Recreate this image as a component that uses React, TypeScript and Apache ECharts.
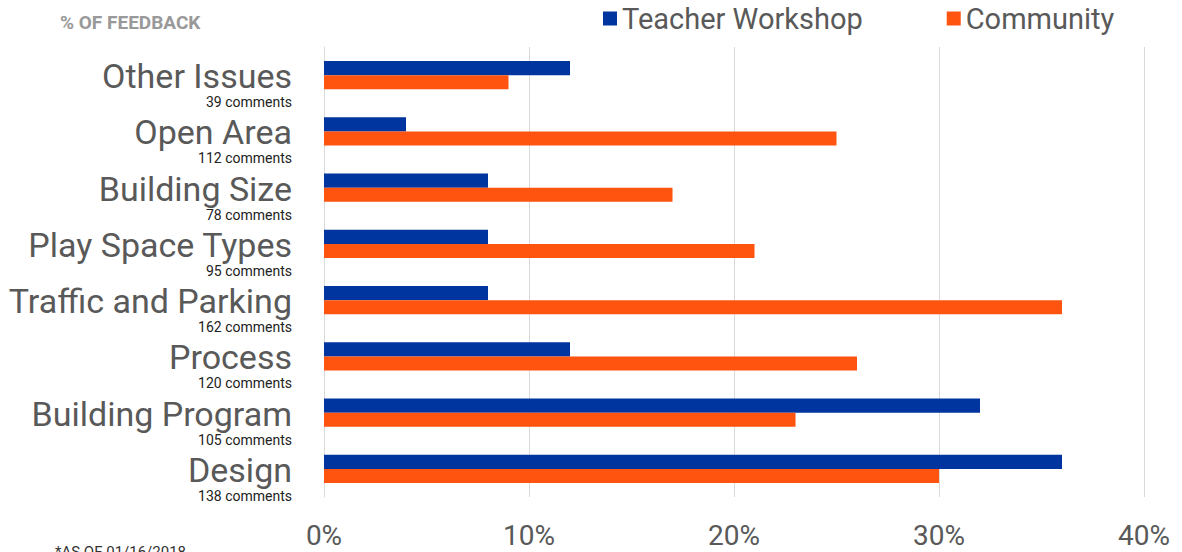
import React, { useEffect, useRef } from "react";
import * as echarts from "echarts";

const categories = [
  "Other Issues",
  "Open Area",
  "Building Size",
  "Play Space Types",
  "Traffic and Parking",
  "Process",
  "Building Program",
  "Design",
];
const commentCounts = [39, 112, 78, 95, 162, 120, 105, 138];
const teacherWorkshop = [12, 4, 8, 8, 8, 12, 32, 36];
const community = [9, 25, 17, 21, 36, 26, 23, 30];
const xTicks = [0, 10, 20, 30, 40];

const FONT = "'Roboto', 'Liberation Sans', sans-serif";

export default function App() {
  const ref = useRef<HTMLDivElement>(null);
  useEffect(() => {
    if (!ref.current) return;
    const chart = echarts.init(ref.current, undefined, { renderer: "svg" });
    chart.setOption({
      animation: false,
      backgroundColor: "#ffffff",
      title: {
        text: "% OF FEEDBACK",
        left: 55,
        top: 8,
        textStyle: {
          fontFamily: FONT,
          fontWeight: "bold",
          fontSize: 19,
          color: "#999999",
        },
      },
      legend: {
        top: -1,
        left: 598,
        itemWidth: 14,
        itemHeight: 14,
        itemGap: 84,
        icon: "rect",
        textStyle: {
          fontFamily: FONT,
          fontSize: 29,
          color: "#595959",
        },
        data: ["Teacher Workshop", "Community"],
      },
      grid: {
        left: 324,
        right: 38,
        top: 47,
        bottom: 55,
        containLabel: false,
      },
      xAxis: {
        type: "value",
        min: 0,
        max: 40,
        interval: 10,
        axisLine: { show: false },
        axisTick: { show: false },
        splitLine: { lineStyle: { color: "#d9d9d9", width: 1 } },
        axisLabel: {
          formatter: (v: number) => (xTicks.includes(v) ? `${v}%` : ""),
          fontFamily: FONT,
          fontSize: 28,
          color: "#595959",
          margin: 24,
        },
      },
      yAxis: {
        type: "category",
        inverse: true,
        data: categories,
        axisLine: { show: true, lineStyle: { color: "#d9d9d9" } },
        axisTick: { show: false },
        axisLabel: {
          margin: 32,
          align: "right",
          padding: [16, 0, 0, 0],
          formatter: (value: string, idx: number) =>
            `{a|${value}}\n{b|${commentCounts[idx]} comments}`,
          rich: {
            a: {
              fontFamily: FONT,
              fontSize: 34,
              color: "#595959",
              lineHeight: 38,
              align: "right",
            },
            b: {
              fontFamily: FONT,
              fontSize: 14,
              color: "#222222",
              lineHeight: 14,
              align: "right",
            },
          },
        },
      },
      series: [
        {
          name: "Teacher Workshop",
          type: "bar",
          data: teacherWorkshop,
          itemStyle: { color: "#00349E" },
          barGap: "0%",
          barCategoryGap: "50%",
        },
        {
          name: "Community",
          type: "bar",
          data: community,
          itemStyle: { color: "#FF5310" },
          barGap: "0%",
          barCategoryGap: "50%",
        },
      ],
      graphic: [
        {
          type: "text",
          left: 55,
          top: 544,
          style: {
            text: "*AS OF 01/16/2018",
            fontFamily: FONT,
            fontSize: 15,
            fill: "#333333",
          },
        },
      ],
    });
    return () => chart.dispose();
  }, []);
  return (
    <div
      ref={ref}
      style={{ position: "fixed", left: 0, top: 0, width: 1182, height: 552 }}
    />
  );
}
